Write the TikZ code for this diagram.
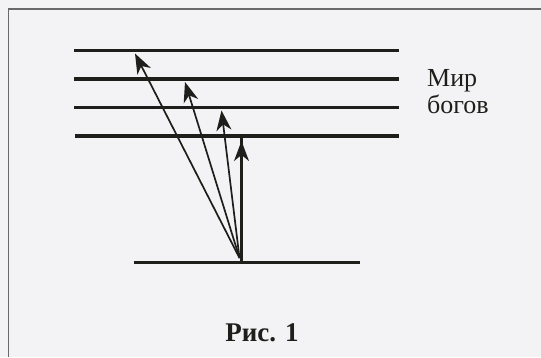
\documentclass[tikz,border=0pt]{standalone}
\usepackage{fontspec}
\setmainfont{Liberation Serif}
\usepackage{tikz}
\usetikzlibrary{arrows.meta}
\definecolor{paper}{RGB}{243,243,245}
\definecolor{ink}{RGB}{30,30,26}
\definecolor{framegray}{RGB}{105,105,105}

\begin{document}
\begin{tikzpicture}[
    x=1pt, y=-1pt,
    level/.style={line width=3.8pt, draw=ink},
    ray/.style={-{Stealth[length=20pt, width=15pt, inset=6pt]}, line width=1.7pt, draw=ink, fill=ink},
    frm/.style={line width=1.5pt, draw=framegray},
    lbl/.style={inner sep=0pt, anchor=base west, font=\fontsize{26}{27}\selectfont, text=ink}
]
    \useasboundingbox[fill=paper] (0,0) rectangle (541,357);
    % frame
    \draw[frm] (8.5,357) -- (8.5,9) -- (541,9);

    % levels
    \draw[level] (74,50.5) -- (399,50.5);
    \draw[level] (74,79) -- (399,79);
    \draw[level] (74,107.5) -- (399,107.5);
    \draw[level] (75,136.2) -- (399,136.2);
    \draw[level] (134,262.5) -- (360,262.5);

    \coordinate (src) at (239.5,258);
    \coordinate (t1) at (135,53.5);
    \coordinate (t2) at (185,82);
    \coordinate (t3) at (221.5,110.5);
    \coordinate (t4) at (241.5,141);
    \coordinate (base) at (241.5,262);
    \coordinate (top) at (241.5,136.2);

    % rays
    \draw[ray] (src) -- (t1);
    \draw[ray] (src) -- (t2);
    \draw[ray] (src) -- (t3);
    \draw[line width=2.4pt, draw=ink] (base) -- (top);
    \draw[ray] (base) -- (t4);

    \node[lbl] (mir) at (427,86.7) {Мир};
    \node[lbl] (gods) at (427,113.3) {богов};
    \node[inner sep=0pt, anchor=base, font=\bfseries\fontsize{27}{28}\selectfont, text=ink] (cap) at (262,341.5) {Рис. 1};
\end{tikzpicture}
\end{document}
